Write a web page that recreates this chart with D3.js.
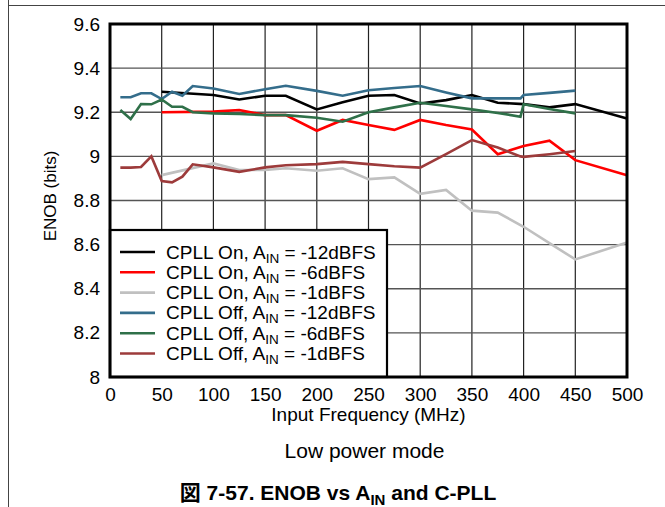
<!DOCTYPE html>
<html><head><meta charset="utf-8">
<script src="https://cdn.jsdelivr.net/npm/d3@7"></script>
<style>
html,body{margin:0;padding:0;background:#fff;}
svg{display:block;font-family:"Liberation Sans",Arial,"Noto Sans CJK JP",sans-serif;}
</style></head>
<body>
<svg id="c" width="665" height="507"></svg>
<script>
const freqOn = [50,100,125,150,170,200,225,250,275,300,325,350,375,400,425,450,500];
const freqOff = [10,20,30,40,50,60,70,80,100,125,150,170,200,225,250,275,300,325,350,375,397,400,425,450];

const onM12 = [9.293,9.278,9.258,9.275,9.275,9.213,9.245,9.275,9.278,9.24,9.255,9.278,9.243,9.237,9.222,9.237,9.172];
const onM6  = [9.2,9.203,9.21,9.187,9.187,9.116,9.165,9.142,9.12,9.165,9.142,9.122,9.01,9.047,9.071,8.983,8.915];
const onM1  = [8.915,8.968,8.938,8.938,8.946,8.935,8.946,8.897,8.905,8.83,8.848,8.754,8.745,8.681,8.607,8.533,8.61];
const offM12 = [9.268,9.268,9.286,9.286,9.26,9.293,9.275,9.319,9.308,9.283,9.304,9.32,9.297,9.275,9.30,9.31,9.319,9.29,9.263,9.263,9.263,9.278,9.288,9.298];
const offM6  = [9.21,9.169,9.237,9.236,9.258,9.225,9.225,9.2,9.195,9.192,9.187,9.187,9.175,9.157,9.2,9.222,9.243,9.228,9.213,9.197,9.18,9.236,9.215,9.195];
const offM1  = [8.949,8.949,8.952,9.0,8.888,8.882,8.908,8.964,8.95,8.93,8.95,8.96,8.965,8.975,8.965,8.955,8.949,9.01,9.074,9.04,9.0,8.998,9.01,9.024];

const xTicks = [0,50,100,150,200,250,300,350,400,450,500];
const yTicks = [8,8.2,8.4,8.6,8.8,9,9.2,9.4,9.6];
const yTickLabels = ["8","8.2","8.4","8.6","8.8","9","9.2","9.4","9.6"];

const seriesNames = [
  ["CPLL On, A","IN"," = -12dBFS"],
  ["CPLL On, A","IN"," = -6dBFS"],
  ["CPLL On, A","IN"," = -1dBFS"],
  ["CPLL Off, A","IN"," = -12dBFS"],
  ["CPLL Off, A","IN"," = -6dBFS"],
  ["CPLL Off, A","IN"," = -1dBFS"]
];
const seriesColors = ["#000000","#ff0000","#c0c0c0","#346d8b","#2f7049","#9d3b3b"];
const seriesX = [freqOn,freqOn,freqOn,freqOff,freqOff,freqOff];
const seriesY = [onM12,onM6,onM1,offM12,offM6,offM1];

const svg = d3.select("#c");
const L=110, R=627, T=24, B=377;
const x = d3.scaleLinear().domain([0,500]).range([L,R]);
const y = d3.scaleLinear().domain([8,9.6]).range([B,T]);

// page frame
svg.append("line").attr("x1",8.5).attr("x2",8.5).attr("y1",0).attr("y2",507).attr("stroke","#444").attr("stroke-width",1);
svg.append("line").attr("x1",8).attr("x2",665).attr("y1",5.5).attr("y2",5.5).attr("stroke","#444").attr("stroke-width",1);

// grid
const g = svg.append("g");
g.selectAll(".vg").data(xTicks.slice(1,-1)).enter().append("line")
  .attr("x1",d=>x(d)).attr("x2",d=>x(d)).attr("y1",T).attr("y2",B)
  .attr("stroke","#222").attr("stroke-width",1.2);
g.selectAll(".hg").data(yTicks.slice(1,-1)).enter().append("line")
  .attr("x1",L).attr("x2",R).attr("y1",d=>y(d)).attr("y2",d=>y(d))
  .attr("stroke","#555").attr("stroke-width",1.4);

// axes labels via d3 axes
const xAxis = d3.axisBottom(x).tickValues(xTicks).tickSize(0).tickPadding(11).tickFormat(d3.format("d"));
const gx = svg.append("g").attr("transform",`translate(0,${B})`).call(xAxis);
gx.select(".domain").remove();
gx.selectAll("text").attr("font-size",19).attr("fill","#000").attr("font-family","Liberation Sans, Arial");

const yAxis = d3.axisLeft(y).tickValues(yTicks).tickSize(0).tickPadding(10).tickFormat((d,i)=>yTickLabels[i]);
const gy = svg.append("g").attr("transform",`translate(${L},0)`).call(yAxis);
gy.select(".domain").remove();
gy.selectAll("text").attr("font-size",19).attr("fill","#000").attr("font-family","Liberation Sans, Arial");

// lines
const line = d3.line().x(d=>x(d[0])).y(d=>y(d[1]));
const lg = svg.append("g");
seriesY.forEach((vals,i)=>{
  const pts = vals.map((v,j)=>[seriesX[i][j],v]);
  lg.append("path").attr("d",line(pts)).attr("fill","none")
    .attr("stroke",seriesColors[i]).attr("stroke-width",2.6).attr("stroke-linejoin","miter");
});

// legend
const leg = svg.append("g");
leg.append("rect").attr("x",110).attr("y",230).attr("width",277).attr("height",147)
  .attr("fill","#fff").attr("stroke","#000").attr("stroke-width",2.2);
seriesNames.forEach((nm,i)=>{
  const yy = 252 + i*20.3;
  leg.append("line").attr("x1",120).attr("x2",155).attr("y1",yy).attr("y2",yy)
    .attr("stroke",seriesColors[i]).attr("stroke-width",2.6);
  const t = leg.append("text").attr("x",166).attr("y",yy+6.5).attr("font-size",19).attr("fill","#000");
  t.append("tspan").text(nm[0]);
  t.append("tspan").attr("font-size",13.5).attr("dy",4).text(nm[1]);
  t.append("tspan").attr("dy",-4).text(nm[2]);
});

// plot frame
svg.append("rect").attr("x",L).attr("y",T).attr("width",R-L).attr("height",B-T)
  .attr("fill","none").attr("stroke","#000").attr("stroke-width",3);

// titles
svg.append("text").attr("x",(L+R)/2).attr("y",421).attr("text-anchor","middle")
  .attr("font-size",19).text("Input Frequency (MHz)");
svg.append("text").attr("transform",`translate(56,196) rotate(-90)`).attr("text-anchor","middle")
  .attr("font-size",17).text("ENOB (bits)");
svg.append("text").attr("x",(L+R)/2 - 4).attr("y",458).attr("text-anchor","middle")
  .attr("font-size",21).text("Low power mode");
const cap = svg.append("text").attr("x",338).attr("y",500).attr("text-anchor","middle")
  .attr("font-size",21).attr("font-weight","bold");
cap.append("tspan").text("図 7-57. ENOB vs A");
cap.append("tspan").attr("font-size",15).attr("dy",5).text("IN");
cap.append("tspan").attr("dy",-5).text(" and C-PLL");
</script>
</body></html>
